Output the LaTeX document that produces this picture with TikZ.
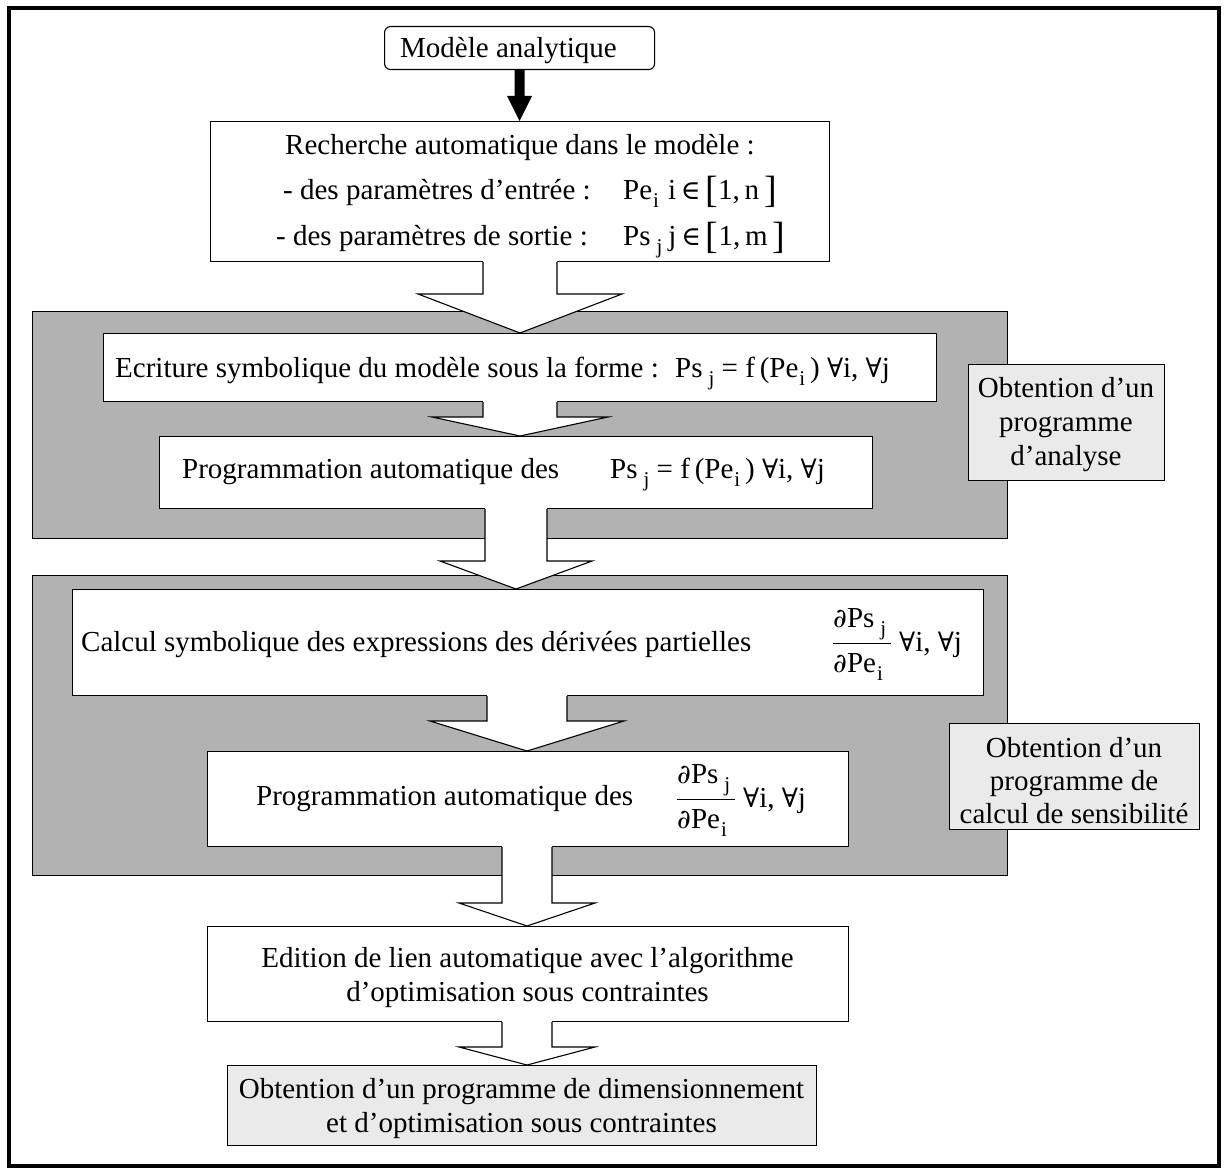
\documentclass[tikz,border=0pt]{standalone}
\usepackage{fontspec}
\setmainfont{Liberation Serif}
\newfontfamily\symf[Scale=0.92]{DejaVu Serif}
\usetikzlibrary{calc}
\definecolor{panelgray}{RGB}{178,178,178}
\definecolor{lblgray}{RGB}{234,234,234}
\newcommand{\sbi}[2][1pt]{\kern#1\raisebox{-8pt}{\fontsize{21}{21}\selectfont #2}}
\newcommand{\brk}[1]{\raisebox{-3pt}{\fontsize{38}{38}\selectfont #1}}
\newcommand{\fa}{{\symf ∀}}
\newcommand{\el}{{\symf ∈}}
\newcommand{\pd}{{\symf ∂}}
% hollow arrow: from node, to node, centre x, shaft half width, head half width, head base y
\newcommand{\harrow}[6]{%
  \path (#3,0 |- #1.south) coordinate (hs) (#3,0 |- #2.north) coordinate (ht);
  \fill[white] ($(hs)+(-#4,-1.5)$) -- ({#3-#4},#6) -- ({#3-#5},#6) -- (ht) -- ({#3+#5},#6) -- ({#3+#4},#6) -- ($(hs)+(#4,-1.5)$) -- cycle;
  \draw[line width=1.1pt] ($(hs)+(-#4,0)$) -- ({#3-#4},#6) -- ({#3-#5},#6) -- (ht) -- ({#3+#5},#6) -- ({#3+#4},#6) -- ($(hs)+(#4,0)$);
}
% partial-derivative fraction: name prefix, x, baseline y
\newcommand{\pdfrac}[3]{%
  \node[txt] (#1num) at (#2,{#3-24}) {\pd Ps\sbi[6pt]{j}};
  \node[txt] (#1den) at (#2,{#3+21}) {\pd Pe\sbi{i}};
  \draw[line width=1pt] (#2,{#3-8}) -- ({#2+58},{#3-8});
  \node[txt] (#1fa) at ({#2+66},#3) {\fa i, \fa j};
}
\begin{document}
\begin{tikzpicture}[x=1pt,y=-1pt,
  every node/.style={inner sep=0pt, font=\fontsize{29}{34}\selectfont},
  box/.style={draw, fill=white, line width=1.1pt, anchor=north west},
  panel/.style={draw, fill=panelgray, line width=1.1pt, anchor=north west},
  lbl/.style={draw, fill=lblgray, line width=1.1pt, anchor=north west},
  txt/.style={anchor=base west},
  ctxt/.style={anchor=north, align=center}]
\useasboundingbox (0,0) rectangle (1225,1169);
\fill[white] (0,0) rectangle (1225,1169);
\draw[line width=4pt] (9,8) rectangle (1219,1166);

% gray panels
\node[panel, minimum width=975, minimum height=227] (pan1) at (32,311) {};
\node[panel, minimum width=975, minimum height=300] (pan2) at (32,575) {};

% boxes
\node[box, rounded corners=6pt, minimum width=270, minimum height=43] (mod) at (384,26) {};
\node[box, minimum width=619, minimum height=140] (rech) at (210,121) {};
\node[box, minimum width=833, minimum height=68] (ecr) at (103,333) {};
\node[box, minimum width=713, minimum height=72] (prog1) at (159,436) {};
\node[box, minimum width=911, minimum height=106] (calc) at (72,589) {};
\node[box, minimum width=641, minimum height=95] (prog2) at (207,751) {};
\node[box, minimum width=641, minimum height=95] (edit) at (207,926) {};
\node[lbl, minimum width=589, minimum height=80] (final) at (227,1065) {};
\node[lbl, minimum width=196, minimum height=116] (lab1) at (968,364) {};
\node[lbl, minimum width=250, minimum height=106] (lab2) at (949,723) {};

% black arrow
\fill (514.5,0 |- mod.south) -- (514.5,96) -- (507,96) -- (519.5,0 |- rech.north) -- (532,96) -- (524.5,96) -- (524.5,0 |- mod.south) -- cycle;

% hollow arrows
\harrow{rech}{ecr}{520}{37}{102}{294}
\harrow{ecr}{prog1}{520}{37}{88}{417}
\harrow{prog1}{calc}{516}{31}{76}{561}
\harrow{calc}{prog2}{527}{40}{97}{721}
\harrow{prog2}{edit}{527}{25}{68}{903}
\harrow{edit}{final}{527}{25}{68}{1047}

% texts
\node[txt] (tmod) at (400,58) {Modèle analytique};
\node[txt] (tr1) at (285,155) {Recherche automatique dans le modèle :};
\node[txt] (tr2) at (283,200) {- des paramètres d’entrée :};
\node[txt] (tr2m) at (623,200) {Pe\sbi{i}\hspace{9pt}i\,\el\,\brk{[}1,\,n\,\brk{]}};
\node[txt] (tr3) at (276,245) {- des paramètres de sortie :};
\node[txt] (tr3m) at (623,245) {Ps\sbi[6pt]{j}\hspace{6pt}j\,\el\,\brk{[}1,\,m\,\brk{]}};

\node[txt] (te) at (115,377) {Ecriture symbolique du modèle sous la forme :};
\node[txt] (tem) at (675,377) {Ps\sbi[6pt]{j} = f\,(Pe\sbi{i}\,) \fa i, \fa j};

\node[txt] (tp1) at (182,478) {Programmation automatique des};
\node[txt] (tp1m) at (610,478) {Ps\sbi[6pt]{j} = f\,(Pe\sbi{i}\,) \fa i, \fa j};

\node[txt] (tc) at (81,651) {Calcul symbolique des expressions des dérivées partielles};
\pdfrac{tc}{833}{651}

\node[txt] (tp2) at (256,805) {Programmation automatique des};
\pdfrac{tp}{677}{807}

\node[ctxt] (ted) at (527.5,947) {Edition de lien automatique avec l’algorithme\\d’optimisation sous contraintes};
\node[ctxt] (tfin) at (521.5,1078) {Obtention d’un programme de dimensionnement\\et d’optimisation sous contraintes};

\node[ctxt] (tl1) at (1066,377) {Obtention d’un\\programme\\d’analyse};
\node[ctxt, font=\fontsize{29}{33}\selectfont] (tl2) at (1074,737) {Obtention d’un\\programme de\\calcul de sensibilité};
\end{tikzpicture}
\end{document}
